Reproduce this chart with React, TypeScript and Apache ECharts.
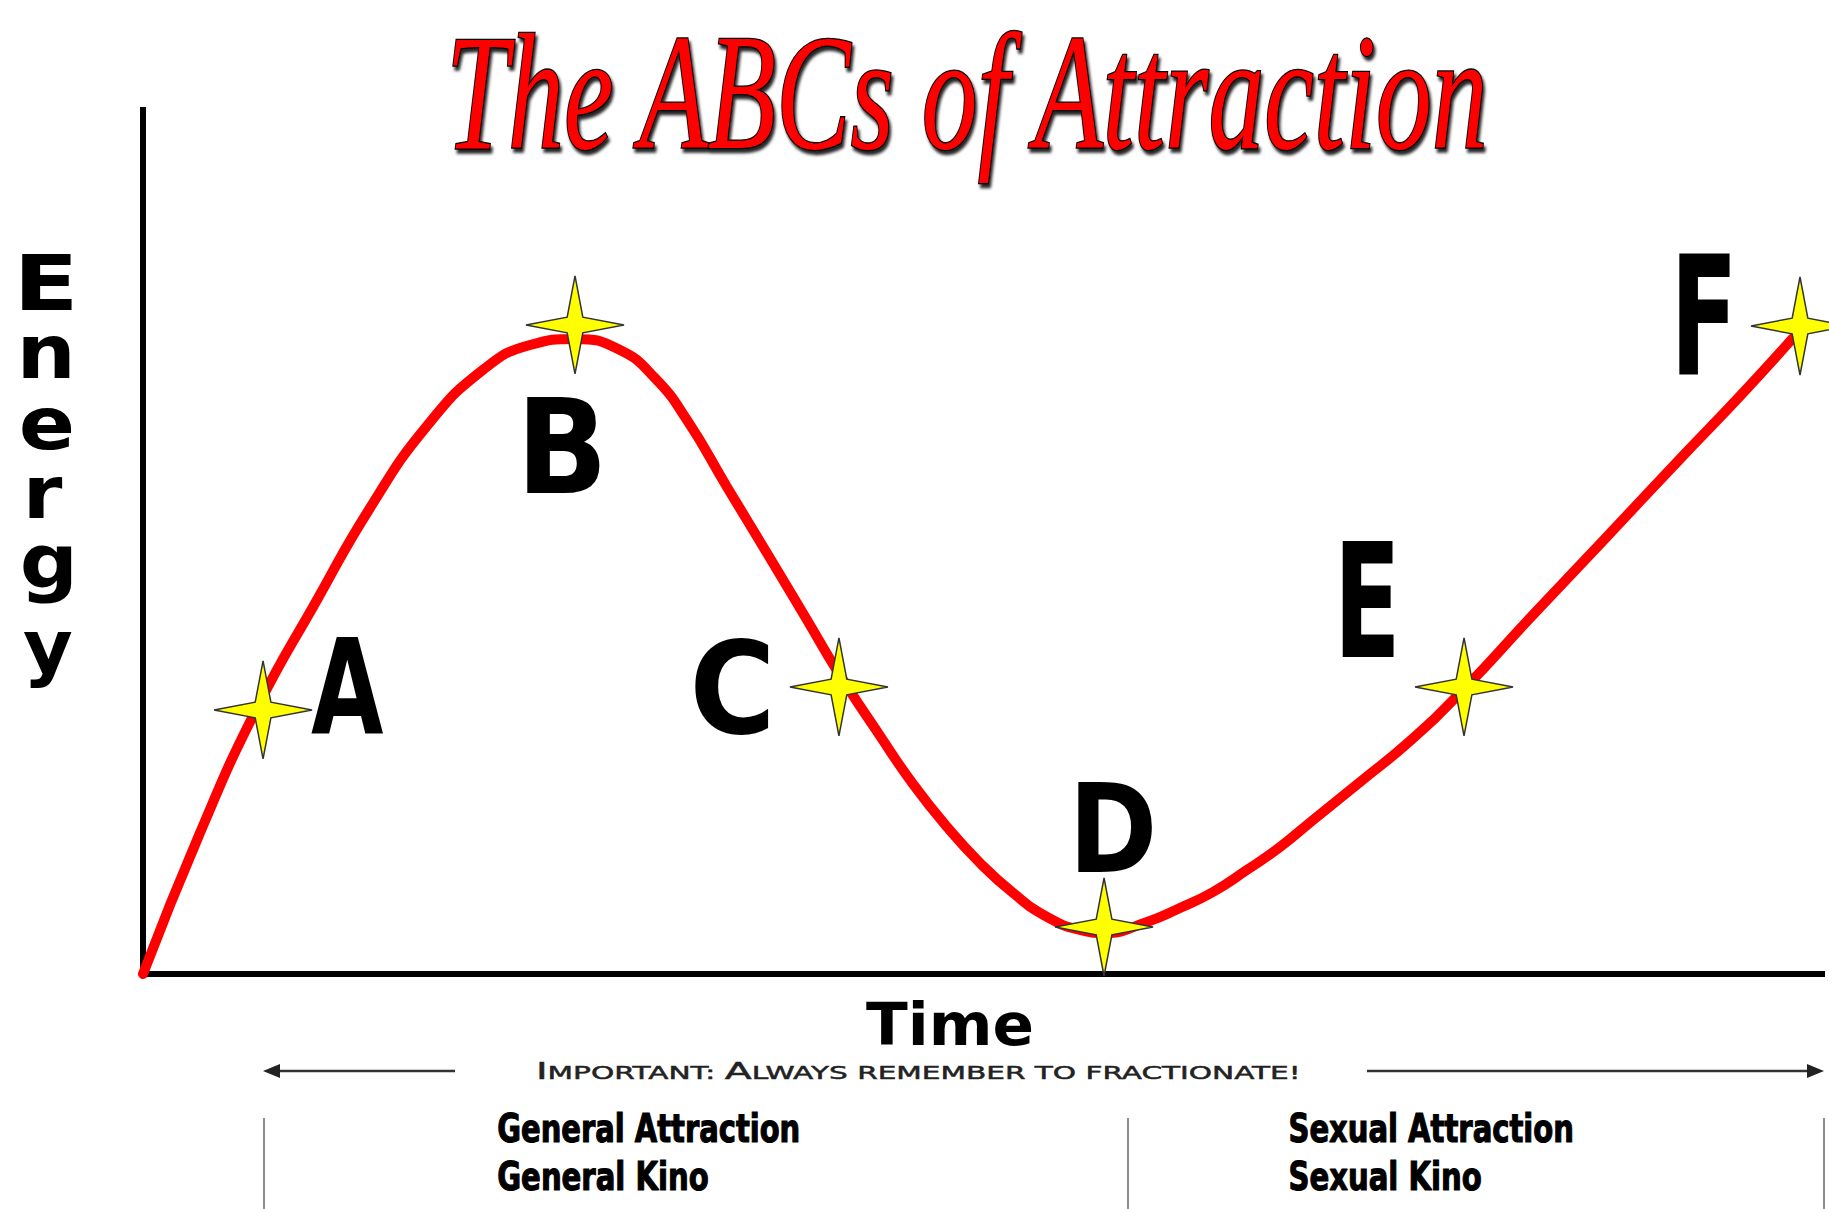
import React, { useEffect, useRef } from "react";
import * as echarts from "echarts";

// ---------- data ----------
const curveX = [0, 3.39, 6.73, 10.36, 13.52, 16.91, 20.31, 23.05, 25.73, 28.41, 30.49, 32.4, 34.78, 37.16, 39.55, 41.39, 43.9, 45.86, 47.89, 49.85, 51.82, 53.84, 55.81, 57.24, 59.8, 61.76, 63.73, 65.75, 67.72, 69.68, 72.48, 75.46, 78.68, 82.61, 86.78, 91.54, 95.12, 98.27];
const curveY = [0, 16.32, 30.56, 43.29, 53.94, 63.43, 70.02, 72.8, 73.5, 72.22, 68.98, 64.12, 56.37, 48.73, 40.97, 34.95, 27.55, 21.99, 17.01, 12.85, 9.38, 6.6, 5.09, 4.75, 6.02, 7.64, 9.49, 12.04, 14.7, 17.82, 22.22, 26.97, 32.99, 41.2, 49.77, 59.61, 66.9, 73.61];
const starNames = ["A", "B", "C", "D", "E", "F"];
const starX = [7.15, 25.73, 41.45, 57.24, 78.68, 98.69];
const starY = [30.56, 75.12, 33.22, 5.44, 33.22, 75.0];

const titleText = "The ABCs of Attraction";
const yName = "Energy";
const xName = "Time";
const notePieces = ["I", "MPORTANT: ", "A", "LWAYS REMEMBER TO FRACTIONATE!"];
const noteBig = [true, false, true, false];
const phaseLabels = [
  ["General Attraction", "General Kino"],
  ["Sexual Attraction", "Sexual Kino"],
];

// ---------- styles / layout ----------
const W = 1829;
const H = 1209;
const GRID = { left: 143, right: 7, top: 110, bottom: 235 };
const HEAVY = "'DejaVu Sans', 'Liberation Sans', sans-serif";
const NARROW = "'Liberation Sans Narrow', 'DejaVu Sans Condensed', 'DejaVu Sans', sans-serif";
const SERIF = "'Liberation Serif', 'DejaVu Serif', serif";
// letter label boxes: offset of ink centre from star centre, ink width/height
const letterBox = [
  { dx: 84, dy: -23.5, w: 72, h: 97 },
  { dx: -12, dy: 120, w: 73, h: 96 },
  { dx: -107, dy: -0.5, w: 74, h: 97 },
  { dx: 11, dy: -100, w: 75, h: 90 },
  { dx: -96, dy: -88, w: 52, h: 116 },
  { dx: -96, dy: -12, w: 51, h: 123 },
];
const energyBoxes = [
  [22, 253, 72, 310],
  [23, 336, 70, 378],
  [22, 407, 72, 450],
  [29, 477, 63, 518],
  [23, 545, 72, 603],
  [23, 632, 72, 688],
];
const STAR_PATH = "path://M50,0 L58,42 L100,50 L58,58 L50,100 L42,58 L0,50 L42,42 Z";

const cv = typeof document !== "undefined" ? document.createElement("canvas") : null;
const ctx = cv ? cv.getContext("2d") : null;

function measure(text: string, font: string) {
  ctx!.font = font;
  const m = ctx!.measureText(text);
  return {
    L: m.actualBoundingBoxLeft,
    R: m.actualBoundingBoxRight,
    A: m.actualBoundingBoxAscent,
    D: m.actualBoundingBoxDescent,
    fA: m.fontBoundingBoxAscent,
    b: (m.fontBoundingBoxAscent - m.fontBoundingBoxDescent) / 2,
    adv: m.width,
  };
}

function fitText(text: string, font: string, x0: number, y0: number, x1: number, y1: number, style: any = {}, minTop?: number) {
  const m = measure(text, font);
  const sx = (x1 - x0) / (m.L + m.R);
  let sy = (y1 - y0) / (m.A + m.D);
  let top = y0;
  if (minTop !== undefined) {
    const syMax = (y1 - minTop) / (m.D + m.fA);
    if (sy > syMax) {
      sy = syMax;
      top = y1 - sy * (m.A + m.D);
    }
  }
  return {
    type: "text",
    silent: true,
    z: 10,
    x: x0 + sx * m.L,
    y: top - sy * (m.b - m.A),
    scaleX: sx,
    scaleY: sy,
    style: { text, x: 0, y: 0, align: "left", verticalAlign: "middle", font, fill: "#000", ...style },
  };
}

export default function App() {
  const ref = useRef<HTMLDivElement>(null);
  useEffect(() => {
    const chart = echarts.init(ref.current!, null, { renderer: "svg" });
    const axisCommon = {
      type: "value",
      min: 0,
      max: 100,
      axisLine: { show: true, onZero: false, lineStyle: { color: "#000", width: 6, cap: "square" } },
      axisTick: { show: false },
      axisLabel: { show: false },
      splitLine: { show: false },
    };
    chart.setOption({
      animation: false,
      backgroundColor: "#ffffff",
      grid: GRID,
      xAxis: { ...axisCommon },
      yAxis: { ...axisCommon },
      series: [
        {
          type: "line",
          data: curveX.map((x, i) => [x, curveY[i]]),
          smooth: 0.5,
          symbol: "none",
          lineStyle: { color: "#ff0000", width: 10, cap: "round", join: "round" },
          z: 2,
        },
        {
          type: "scatter",
          data: starX.map((x, i) => ({ name: starNames[i], value: [x, starY[i]] })),
          symbol: STAR_PATH,
          symbolSize: 98,
          symbolKeepAspect: true,
          clip: false,
          itemStyle: { color: "#ffff00", borderColor: "#333", borderWidth: 1.5, opacity: 1 },
          z: 3,
        },
      ],
    });

    const els: any[] = [];
    // title
    els.push(
      fitText(
        titleText,
        `italic 190px ${SERIF}`,
        453,
        13,
        1488,
        183,
        {
          fill: "#ff0000",
          stroke: "#000",
          lineWidth: 3,
          textShadowColor: "rgba(0,0,0,0.85)",
          textShadowBlur: 3,
          textShadowOffsetX: 2,
          textShadowOffsetY: 4,
        },
        1
      )
    );
    // Energy
    yName.split("").forEach((ch, i) => {
      const b = energyBoxes[i];
      els.push(fitText(ch, `bold 78px ${HEAVY}`, b[0], b[1], b[2], b[3]));
    });
    // Time
    els.push(fitText(xName, `bold 62px ${HEAVY}`, 866, 1001, 1032, 1046));
    // letters A-F
    starNames.forEach((nm, i) => {
      const p = chart.convertToPixel({ gridIndex: 0 }, [starX[i], starY[i]]) as number[];
      const lb = letterBox[i];
      const cx = p[0] + lb.dx;
      const cy = p[1] + lb.dy;
      els.push(fitText(nm, `bold 130px ${HEAVY}`, cx - lb.w / 2, cy - lb.h / 2, cx + lb.w / 2, cy + lb.h / 2));
    });
    // note line
    const bigF = `20px ${HEAVY}`;
    const smallF = `15px ${HEAVY}`;
    const ms = notePieces.map((t, i) => measure(t, noteBig[i] ? bigF : smallF));
    const total = ms.reduce((s, m) => s + m.adv, 0);
    const nsx = 765 / total;
    const nsy = 16 / measure("I", bigF).A;
    let cum = 0;
    notePieces.forEach((t, i) => {
      const m = ms[i];
      els.push({
        type: "text",
        silent: true,
        z: 10,
        x: 536 + nsx * cum,
        y: 1079 - nsy * m.b,
        scaleX: nsx,
        scaleY: nsy,
        style: { text: t, x: 0, y: 0, align: "left", verticalAlign: "middle", font: noteBig[i] ? bigF : smallF, fill: "#222", stroke: "#222", lineWidth: 0.4 },
      });
      cum += m.adv;
    });
    // arrows
    const ay = 1071;
    els.push({ type: "line", silent: true, shape: { x1: 455, y1: ay, x2: 272, y2: ay }, style: { stroke: "#333", lineWidth: 2.5 } });
    els.push({ type: "polygon", silent: true, shape: { points: [[263, ay], [280, ay - 7], [280, ay + 7]] }, style: { fill: "#222" } });
    els.push({ type: "line", silent: true, shape: { x1: 1367, y1: ay, x2: 1814, y2: ay }, style: { stroke: "#333", lineWidth: 2.5 } });
    els.push({ type: "polygon", silent: true, shape: { points: [[1824, ay], [1807, ay - 7], [1807, ay + 7]] }, style: { fill: "#222" } });
    // separators
    [264, 1128, 1824].forEach((x) => {
      els.push({ type: "line", silent: true, shape: { x1: x, y1: 1118, x2: x, y2: H }, style: { stroke: "#666", lineWidth: 1.5 } });
    });
    // phase labels
    const phaseX = [[498, 798, 498, 708], [1290, 1572, 1290, 1481]];
    phaseLabels.forEach((pair, i) => {
      const px = phaseX[i];
      els.push(fitText(pair[0], `bold 42px ${NARROW}`, px[0], 1112, px[1], 1143, { stroke: "#000", lineWidth: 1.2 }));
      els.push(fitText(pair[1], `bold 42px ${NARROW}`, px[2], 1159, px[3], 1191, { stroke: "#000", lineWidth: 1.2 }));
    });

    chart.setOption({ graphic: { elements: els } });
    return () => chart.dispose();
  }, []);
  return <div ref={ref} style={{ position: "absolute", left: 0, top: 0, width: W, height: H, background: "#fff" }} />;
}
